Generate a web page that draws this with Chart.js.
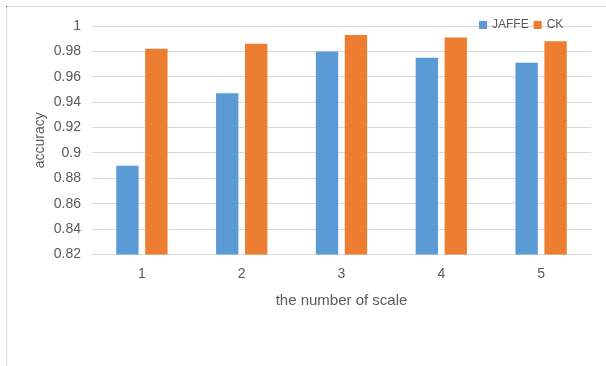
<!DOCTYPE html>
<html>
<head>
<meta charset="utf-8">
<script src="https://cdn.jsdelivr.net/npm/chart.js@4/dist/chart.umd.min.js"></script>
<style>
  html, body { margin: 0; padding: 0; background: #ffffff; }
  body { width: 606px; height: 366px; position: relative; overflow: hidden; }
  #frame {
    position: absolute; left: 6px; top: 6px; width: 600px; height: 360px;
    border-top: 1px solid #d9d9d9; border-left: 1px solid #d9d9d9;
  }
  #corner { position: absolute; left: 6px; top: 6px; width: 1px; height: 1px; background: #333; }
  #chart { position: absolute; left: 0; top: 0; }
</style>
</head>
<body>
<div id="frame"></div>
<div id="corner"></div>
<canvas id="chart" width="606" height="366"></canvas>
<script>
// Recognition accuracy for each number of scales
const scales = ['1', '2', '3', '4', '5'];
const jaffe = [0.89, 0.947, 0.98, 0.975, 0.971];
const ck = [0.982, 0.986, 0.993, 0.991, 0.988];
const seriesNames = ['JAFFE', 'CK'];
const seriesColors = ['#5b9bd5', '#ed7d31'];

const textColor = '#595959';
const gridColor = '#d9d9d9';
const fontFamily = '"Liberation Sans", Arial, sans-serif';

// Compact legend drawn at the top right, over the top gridline
const cornerLegend = {
  id: 'cornerLegend',
  afterDraw(chart) {
    const ctx = chart.ctx;
    ctx.save();
    ctx.font = '12px ' + fontFamily;
    ctx.textBaseline = 'middle';
    ctx.textAlign = 'left';
    const cy = 25;
    let x = 479;
    chart.data.datasets.forEach((ds) => {
      ctx.fillStyle = ds.backgroundColor;
      ctx.fillRect(x, cy - 4, 8, 8);
      x += 13;
      ctx.fillStyle = textColor;
      ctx.fillText(ds.label, x, cy);
      x += ctx.measureText(ds.label).width + 5;
    });
    ctx.restore();
  }
};

new Chart(document.getElementById('chart'), {
  type: 'bar',
  data: {
    labels: scales,
    datasets: [
      { label: seriesNames[0], data: jaffe, backgroundColor: seriesColors[0] },
      { label: seriesNames[1], data: ck, backgroundColor: seriesColors[1] }
    ]
  },
  options: {
    responsive: false,
    animation: false,
    devicePixelRatio: 1,
    layout: { padding: { left: 0, top: 26, right: 15, bottom: 0 } },
    datasets: { bar: { categoryPercentage: 0.58, barPercentage: 0.772 } },
    plugins: { legend: { display: false }, tooltip: { enabled: false } },
    scales: {
      x: {
        grid: { display: false },
        border: { display: true, color: gridColor, width: 1 },
        ticks: { color: textColor, font: { family: fontFamily, size: 14 }, padding: 3 },
        title: {
          display: true, text: 'the number of scale', color: textColor,
          font: { family: fontFamily, size: 15 }, padding: { top: 0, bottom: 56 }
        },
        afterFit(scale) { scale.height = 111.5; }
      },
      y: {
        min: 0.82, max: 1,
        grid: { color: gridColor, lineWidth: 1, drawTicks: false },
        border: { display: false },
        ticks: {
          stepSize: 0.02, color: textColor, padding: 11,
          font: { family: fontFamily, size: 14 },
          callback: (v) => String(+v.toFixed(2))
        },
        title: {
          display: true, text: 'accuracy', color: textColor,
          font: { family: fontFamily, size: 14 }, padding: { top: 31.6, bottom: 0 }
        },
        afterFit(scale) { scale.width = 92; }
      }
    }
  },
  plugins: [cornerLegend]
});
</script>
</body>
</html>
